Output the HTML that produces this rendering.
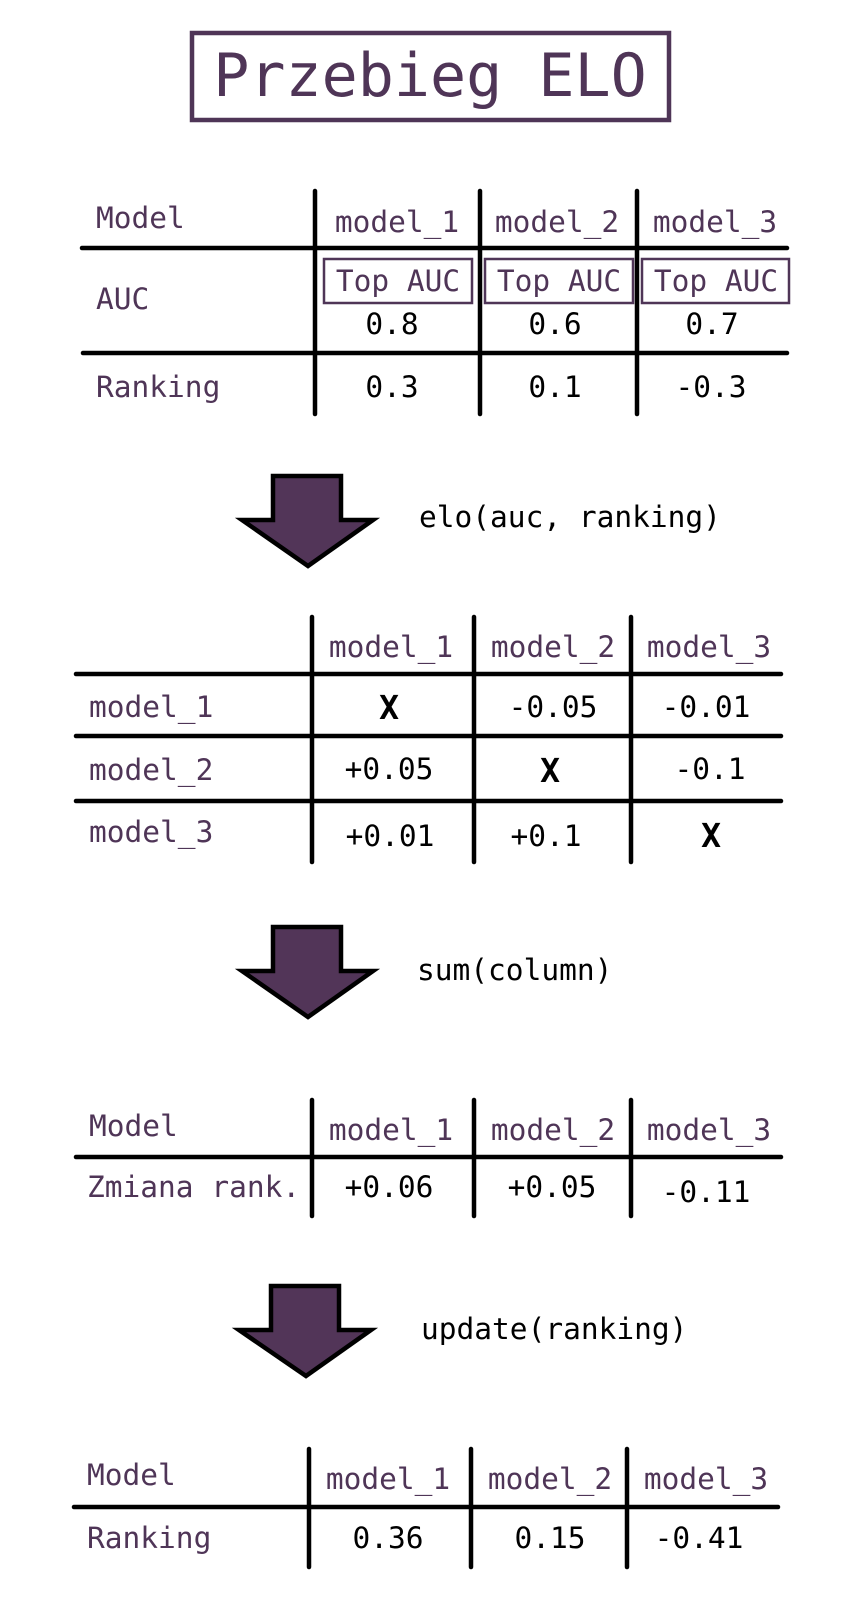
<!DOCTYPE html>
<html><head><meta charset="utf-8"><style>
html,body{margin:0;padding:0;background:#fff;width:864px;height:1620px;overflow:hidden}
svg{display:block}
text{font-family:"DejaVu Sans Mono","Liberation Mono",monospace;font-size:29.5px}
.p{fill:#4f3557}
.b{fill:#000}
.m{text-anchor:middle}
.ln{stroke:#000;stroke-width:4.5;stroke-linecap:round}
.ar{fill:#523558;stroke:#000;stroke-width:4.5;stroke-linejoin:miter}
.bx{fill:none;stroke:#4f3557;stroke-width:2.5}
</style></head><body>
<svg width="864" height="1620" viewBox="0 0 864 1620" xmlns="http://www.w3.org/2000/svg">
<!-- Title -->
<rect x="192" y="33" width="477" height="87" fill="none" stroke="#4f3557" stroke-width="4.5"/>
<text x="430" y="96" class="p m" style="font-size:60px">Przebieg ELO</text>

<!-- Table 1 -->
<line class="ln" x1="315" y1="191" x2="315" y2="414"/>
<line class="ln" x1="480" y1="191" x2="480" y2="414"/>
<line class="ln" x1="637" y1="191" x2="637" y2="414"/>
<line class="ln" x1="82" y1="248" x2="787" y2="248"/>
<line class="ln" x1="83" y1="353" x2="787" y2="353"/>
<text x="96" y="228" class="p">Model</text>
<text x="397" y="232" class="p m">model_1</text>
<text x="557" y="232" class="p m">model_2</text>
<text x="715" y="232" class="p m">model_3</text>
<rect class="bx" x="324" y="259" width="148" height="44"/>
<rect class="bx" x="485" y="259" width="148" height="44"/>
<rect class="bx" x="642" y="259" width="147" height="44"/>
<text x="398" y="291" class="p m">Top AUC</text>
<text x="559" y="291" class="p m">Top AUC</text>
<text x="716" y="291" class="p m">Top AUC</text>
<text x="96" y="309" class="p">AUC</text>
<text x="392" y="334" class="b m">0.8</text>
<text x="555" y="334" class="b m">0.6</text>
<text x="712" y="334" class="b m">0.7</text>
<text x="96" y="397" class="p">Ranking</text>
<text x="392" y="397" class="b m">0.3</text>
<text x="555" y="397" class="b m">0.1</text>
<text x="711" y="397" class="b m">-0.3</text>

<!-- Arrow 1 -->
<polygon class="ar" points="273,476 341,476 341,520 373,520 308,566 242,520 273,520"/>
<text x="419" y="527" class="b">elo(auc, ranking)</text>

<!-- Table 2 -->
<line class="ln" x1="312" y1="617" x2="312" y2="862"/>
<line class="ln" x1="474" y1="617" x2="474" y2="862"/>
<line class="ln" x1="631" y1="617" x2="631" y2="862"/>
<line class="ln" x1="76" y1="674" x2="781" y2="674"/>
<line class="ln" x1="76" y1="736" x2="781" y2="736"/>
<line class="ln" x1="76" y1="801" x2="781" y2="801"/>
<text x="391" y="657" class="p m">model_1</text>
<text x="553" y="657" class="p m">model_2</text>
<text x="709" y="657" class="p m">model_3</text>
<text x="89" y="717" class="p">model_1</text>
<text x="89" y="780" class="p">model_2</text>
<text x="89" y="842" class="p">model_3</text>
<text x="389" y="719" class="b m" style="font-weight:bold;font-size:33px">X</text>
<text x="553" y="717" class="b m">-0.05</text>
<text x="706" y="717" class="b m">-0.01</text>
<text x="389" y="779" class="b m">+0.05</text>
<text x="550" y="782" class="b m" style="font-weight:bold;font-size:33px">X</text>
<text x="710" y="779" class="b m">-0.1</text>
<text x="390" y="846" class="b m">+0.01</text>
<text x="546" y="846" class="b m">+0.1</text>
<text x="711" y="847" class="b m" style="font-weight:bold;font-size:33px">X</text>

<!-- Arrow 2 -->
<polygon class="ar" points="273,927 341,927 341,971 373,971 308,1017 242,971 273,971"/>
<text x="417" y="980" class="b">sum(column)</text>

<!-- Table 3 -->
<line class="ln" x1="312" y1="1100" x2="312" y2="1216"/>
<line class="ln" x1="474" y1="1100" x2="474" y2="1216"/>
<line class="ln" x1="631" y1="1100" x2="631" y2="1216"/>
<line class="ln" x1="76" y1="1157" x2="781" y2="1157"/>
<text x="89" y="1136" class="p">Model</text>
<text x="391" y="1140" class="p m">model_1</text>
<text x="553" y="1140" class="p m">model_2</text>
<text x="709" y="1140" class="p m">model_3</text>
<text x="87" y="1197" class="p">Zmiana rank.</text>
<text x="389" y="1197" class="b m">+0.06</text>
<text x="552" y="1197" class="b m">+0.05</text>
<text x="706" y="1202" class="b m">-0.11</text>

<!-- Arrow 3 -->
<polygon class="ar" points="271,1286 339,1286 339,1330 371,1330 306,1376 239,1330 271,1330"/>
<text x="421" y="1339" class="b">update(ranking)</text>

<!-- Table 4 -->
<line class="ln" x1="309" y1="1449" x2="309" y2="1567"/>
<line class="ln" x1="471" y1="1449" x2="471" y2="1567"/>
<line class="ln" x1="627" y1="1449" x2="627" y2="1567"/>
<line class="ln" x1="74" y1="1507" x2="778" y2="1507"/>
<text x="87" y="1485" class="p">Model</text>
<text x="388" y="1489" class="p m">model_1</text>
<text x="550" y="1489" class="p m">model_2</text>
<text x="706" y="1489" class="p m">model_3</text>
<text x="87" y="1548" class="p">Ranking</text>
<text x="388" y="1548" class="b m">0.36</text>
<text x="550" y="1548" class="b m">0.15</text>
<text x="699" y="1548" class="b m">-0.41</text>
</svg>
</body></html>
